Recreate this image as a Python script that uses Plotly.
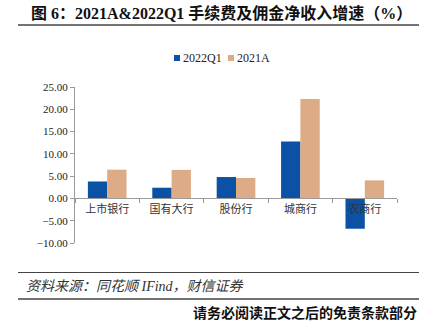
import plotly.graph_objects as go

categories = ["上市银行", "国有大行", "股份行", "城商行", "农商行"]
q1_2022 = [3.8, 2.4, 4.8, 12.8, -6.8]
a_2021 = [6.45, 6.4, 4.6, 22.3, 4.05]
series_names = ["2022Q1", "2021A"]
colors = ["#0B51A5", "#DDAB86"]

W, H = 427, 323
L, R, T, B = 75, 30, 87, 80
pw, ph = W - L - R, H - T - B
ymin, ymax = -10, 25

def px_x(x):
    return (x - L) / pw

def px_y(y):
    return (H - B - y) / ph

serif = "Liberation Serif, 'Noto Sans CJK SC'"
cjk = "'Noto Sans CJK SC'"

fig = go.Figure()
for name, vals, c in zip(series_names, [q1_2022, a_2021], colors):
    fig.add_trace(go.Bar(x=categories, y=vals, name=name, marker=dict(color=c, line=dict(width=0)),
                         showlegend=False))

fig.update_layout(
    width=W, height=H,
    margin=dict(l=L, r=R, t=T, b=B),
    paper_bgcolor="white", plot_bgcolor="white",
    barmode="group", bargap=0.4, bargroupgap=0,
    showlegend=False,
    xaxis=dict(anchor="free", position=(0 - ymin) / (ymax - ymin),
               showline=True, linecolor="#9A9A9A", linewidth=1,
               ticks="outside", tickson="boundaries", ticklen=4, tickcolor="#9A9A9A",
               tickfont=dict(family=cjk, size=11, color="#333"), showgrid=False),
    yaxis=dict(range=[ymin, ymax], dtick=5, tickformat=".2f", showgrid=False, zeroline=False,
               showline=True, linecolor="#9A9A9A", linewidth=1,
               ticks="outside", ticklen=4, tickcolor="#9A9A9A",
               tickfont=dict(family=serif, size=11, color="#222")),
)

# legend (squares + real text)
legend_x = [177, 231]
for name, c, lx in zip(series_names, colors, legend_x):
    fig.add_shape(type="rect", xref="paper", yref="paper",
                  x0=px_x(lx - 3), x1=px_x(lx + 3), y0=px_y(55), y1=px_y(61),
                  fillcolor=c, line=dict(width=0))
    fig.add_annotation(text=name, xref="paper", yref="paper", x=px_x(lx + 4), y=px_y(58),
                       xanchor="left", yanchor="middle", showarrow=False,
                       font=dict(family=serif, size=12, color="#222"))

fig.add_annotation(text="<b>图 6：2021A&2022Q1 手续费及佣金净收入增速（%）</b>",
                   xref="paper", yref="paper", x=px_x(29), y=px_y(13),
                   xanchor="left", yanchor="middle", showarrow=False,
                   font=dict(family=serif, size=16, color="#111"))
fig.add_annotation(text="<i>资料来源：同花顺 IFind，财信证券</i>",
                   xref="paper", yref="paper", x=px_x(24), y=px_y(286),
                   xanchor="left", yanchor="middle", showarrow=False,
                   font=dict(family=serif, size=14, color="#333"))
fig.add_annotation(text="<b>请务必阅读正文之后的免责条款部分</b>",
                   xref="paper", yref="paper", x=px_x(419), y=px_y(312),
                   xanchor="right", yanchor="middle", showarrow=False,
                   font=dict(family=cjk, size=14, color="#111"))

for yline, wdt in [(25, 1.6), (272.5, 1.0), (299, 1.6)]:
    fig.add_shape(type="line", xref="paper", yref="paper",
                  x0=px_x(18), x1=px_x(419), y0=px_y(yline), y1=px_y(yline),
                  line=dict(color="#444", width=wdt))

fig.write_html("out.html")
